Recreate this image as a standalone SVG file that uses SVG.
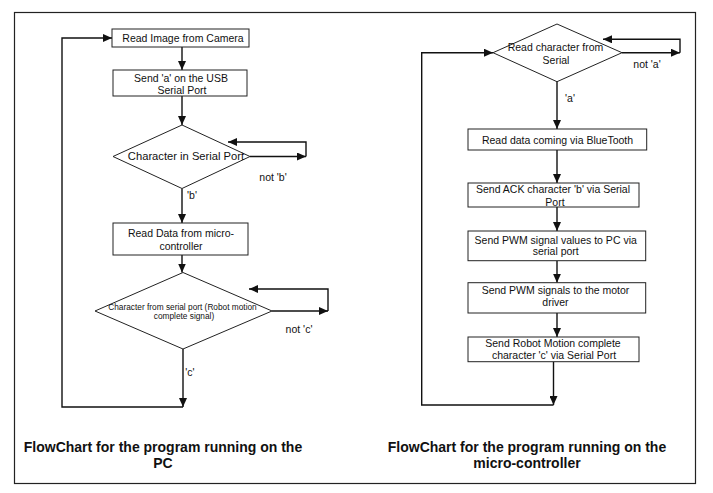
<svg xmlns="http://www.w3.org/2000/svg" width="713" height="493" viewBox="0 0 713 493">
<style>
.box{fill:#fff;stroke:#222;stroke-width:1}
.t{font-family:"Liberation Sans",Arial,sans-serif;font-size:10.5px;fill:#111;text-anchor:middle}
.ts{font-size:8.3px}
.tm{font-size:11.2px}
.title{font-family:"Liberation Sans",Arial,sans-serif;font-size:14px;font-weight:bold;fill:#111;text-anchor:middle}
.c{fill:none;stroke:#111;stroke-width:1.4}
</style>
<defs>
<marker id="ah" markerWidth="9" markerHeight="8" refX="9" refY="4" orient="auto" markerUnits="userSpaceOnUse">
<path d="M0,0 L9,4 L0,8 Z" fill="#111"/>
</marker>
</defs>
<rect x="14.5" y="12.5" width="681" height="471" fill="#fff" stroke="#222" stroke-width="1.2"/>

<g id="connectors">
<line class="c" x1="182" y1="47" x2="182" y2="70" marker-end="url(#ah)"/>
<line class="c" x1="182" y1="96" x2="182" y2="125" marker-end="url(#ah)"/>
<line class="c" x1="250" y1="156.5" x2="306" y2="156.5" marker-end="url(#ah)"/>
<polyline class="c" points="306,156.5 306,142 228,142" marker-end="url(#ah)"/>
<line class="c" x1="182" y1="188.5" x2="182" y2="223" marker-end="url(#ah)"/>
<line class="c" x1="182" y1="255" x2="182" y2="272.5" marker-end="url(#ah)"/>
<line class="c" x1="272" y1="311" x2="328" y2="311" marker-end="url(#ah)"/>
<polyline class="c" points="328,311 328,289 249,289" marker-end="url(#ah)"/>
<line class="c" x1="183" y1="349" x2="183" y2="407" marker-end="url(#ah)"/>
<polyline class="c" points="183,407 62,407 62,38 112,38" marker-end="url(#ah)"/>

<line class="c" x1="557" y1="81.7" x2="557" y2="129" marker-end="url(#ah)"/>
<line class="c" x1="622" y1="52.7" x2="680" y2="52.7" marker-end="url(#ah)"/>
<polyline class="c" points="680,52.7 680,39.3 603,39.3" marker-end="url(#ah)"/>
<line class="c" x1="557" y1="150" x2="557" y2="183" marker-end="url(#ah)"/>
<line class="c" x1="557" y1="207" x2="557" y2="231" marker-end="url(#ah)"/>
<line class="c" x1="557" y1="260.7" x2="557" y2="282.7" marker-end="url(#ah)"/>
<line class="c" x1="557" y1="313" x2="557" y2="337" marker-end="url(#ah)"/>
<line class="c" x1="553.5" y1="361.7" x2="553.5" y2="405" marker-end="url(#ah)"/>
<polyline class="c" points="553.5,405 421.7,405 421.7,52.7 493,52.7" marker-end="url(#ah)"/>

<text class="t" x="273" y="181">not 'b'</text>
<text class="t" x="192" y="199">'b'</text>
<text class="t" x="299" y="333">not 'c'</text>
<text class="t" x="190" y="376">'c'</text>
<text class="t" x="647" y="67.7">not 'a'</text>
<text class="t" x="570" y="101.7">'a'</text>
</g>

<g id="n1">
<rect class="box" x="112" y="29" width="137" height="18"/>
<text class="t" x="183" y="41.7">Read Image from Camera</text>
</g>
<g id="n2">
<rect class="box" x="113" y="70" width="134" height="26"/>
<text class="t" x="181" y="82">Send 'a' on the USB</text>
<text class="t" x="182" y="93.7">Serial Port</text>
</g>
<g id="n3">
<polygon class="box" points="182,125 250,156.5 182,188.5 113,156.5"/>
<text class="t tm" x="186" y="159.7">Character in Serial Port</text>
</g>
<g id="n4">
<rect class="box" x="113" y="223" width="135" height="32"/>
<text class="t" x="181" y="236.7">Read Data from micro-</text>
<text class="t" x="181" y="249.7">controller</text>
</g>
<g id="n5">
<polygon class="box" points="183,272.5 272,311 183,349 95,311"/>
<text class="t ts" x="182.5" y="310">Character from serial port (Robot motion</text>
<text class="t ts" x="184" y="319">complete signal)</text>
</g>

<g id="m1">
<polygon class="box" points="557,24 622,52.7 557,81.7 493,52.7"/>
<text class="t" x="555.5" y="51">Read character from</text>
<text class="t" x="556" y="63.7">Serial</text>
</g>
<g id="m2">
<rect class="box" x="468" y="129" width="178.7" height="21"/>
<text class="t" x="557.5" y="143.7">Read data coming via BlueTooth</text>
</g>
<g id="m3">
<rect class="box" x="468" y="183" width="171" height="24"/>
<text class="t" x="553" y="192.7">Send ACK character 'b' via Serial</text>
<text class="t" x="555" y="205.7">Port</text>
</g>
<g id="m4">
<rect class="box" x="468" y="231" width="177.7" height="29.7"/>
<text class="t" x="555.7" y="243.7">Send PWM signal values to PC via</text>
<text class="t" x="555.7" y="255.4">serial port</text>
</g>
<g id="m5">
<rect class="box" x="468" y="282.7" width="177.7" height="30.3"/>
<text class="t" x="555.5" y="294.4">Send PWM signals to the motor</text>
<text class="t" x="555.5" y="305.7">driver</text>
</g>
<g id="m6">
<rect class="box" x="468" y="337" width="171" height="24.7"/>
<text class="t" x="553" y="346.7">Send Robot Motion complete</text>
<text class="t" x="554" y="358.7">character 'c' via Serial Port</text>
</g>

<g id="titles">
<text class="title" x="163" y="452">FlowChart for the program running on the</text>
<text class="title" x="163" y="468">PC</text>
<text class="title" x="527" y="452">FlowChart for the program running on the</text>
<text class="title" x="527" y="468">micro-controller</text>
</g>
</svg>
